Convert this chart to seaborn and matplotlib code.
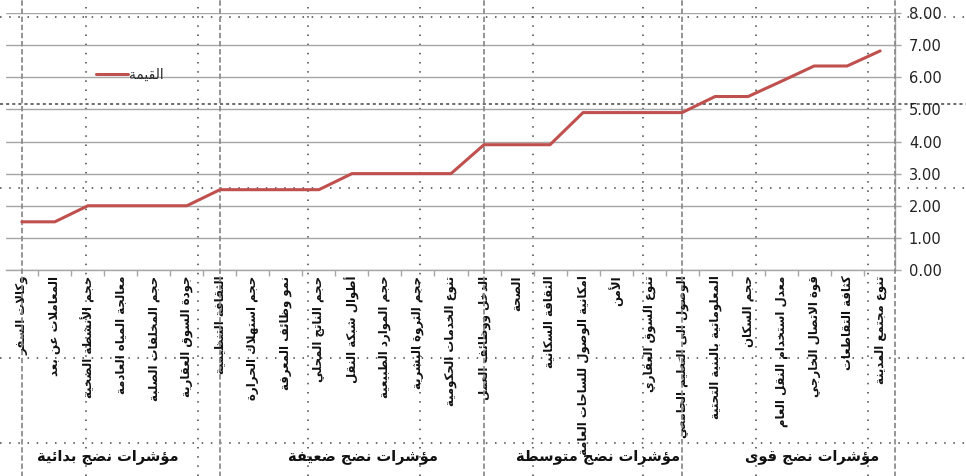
import matplotlib
matplotlib.use("Agg")
import matplotlib.pyplot as plt
from matplotlib.lines import Line2D
import seaborn as sns
import pandas as pd
import numpy as np

# ---------------- data ----------------
categories = [
    "وكالات السفر",
    "المعاملات عن بعد",
    "حجم الأنشطة الصحية",
    "معالجة المياه العادمة",
    "حجم المخلفات الصلبة",
    "جودة السوق العقارية",
    "الثقافة التنظيمية",
    "حجم استهلاك الحرارة",
    "نمو وظائف المعرفة",
    "حجم الناتج المحلي",
    "أطوال شبكة النقل",
    "حجم الموارد الطبيعية",
    "حجم الثروة البشرية",
    "تنوع الخدمات الحكومية",
    "الدخل ووظائف العمل",
    "الصحة",
    "الثقافة السكانية",
    "امكانية الوصول للساحات العامة",
    "الأمن",
    "تنوع السوق العقاري",
    "الوصول الى التعليم الجامعي",
    "المعلوماتية بالبنية التحتية",
    "حجم السكان",
    "معدل استخدام النقل العام",
    "قوة الاتصال الخارجي",
    "كثافة التقاطعات",
    "تنوع مجتمع المدينة",
]
values = [1.50, 1.50, 2.00, 2.00, 2.00, 2.00, 2.50, 2.50, 2.50, 2.50,
          3.00, 3.00, 3.00, 3.00, 3.90, 3.90, 3.90, 4.90, 4.90, 4.90,
          4.90, 5.40, 5.40, 5.87, 6.35, 6.35, 6.82]
series_name = "القيمة"
group_names = ["مؤشرات نضج بدائية", "مؤشرات نضج ضعيفة",
               "مؤشرات نضج متوسطة", "مؤشرات نضج قوى"]
group_sizes = [6, 8, 6, 7]
y_ticks = [0, 1, 2, 3, 4, 5, 6, 7, 8]

# ---------------- Arabic shaping (matplotlib has no bidi/shaping) ----------------
_DUAL = {'ئ': 0xFE89, 'ب': 0xFE8F, 'ت': 0xFE95, 'ث': 0xFE99, 'ج': 0xFE9D,
         'ح': 0xFEA1, 'خ': 0xFEA5, 'س': 0xFEB1, 'ش': 0xFEB5, 'ص': 0xFEB9,
         'ض': 0xFEBD, 'ط': 0xFEC1, 'ظ': 0xFEC5, 'ع': 0xFEC9, 'غ': 0xFECD,
         'ف': 0xFED1, 'ق': 0xFED5, 'ك': 0xFED9, 'ل': 0xFEDD, 'م': 0xFEE1,
         'ن': 0xFEE5, 'ه': 0xFEE9, 'ي': 0xFEF1}
_RIGHT = {'آ': 0xFE81, 'أ': 0xFE83, 'ؤ': 0xFE85, 'إ': 0xFE87, 'ا': 0xFE8D,
          'ة': 0xFE93, 'د': 0xFEA9, 'ذ': 0xFEAB, 'ر': 0xFEAD, 'ز': 0xFEAF,
          'و': 0xFEED, 'ى': 0xFEEF}
_LAMALEF = {'آ': 0xFEF5, 'أ': 0xFEF7, 'إ': 0xFEF9, 'ا': 0xFEFB}


def shape_ar(text):
    toks = []
    i = 0
    while i < len(text):
        c = text[i]
        if c == 'ل' and i + 1 < len(text) and text[i + 1] in _LAMALEF:
            toks.append(('R', _LAMALEF[text[i + 1]], None))
            i += 2
            continue
        if c in _DUAL:
            toks.append(('D', _DUAL[c], None))
        elif c in _RIGHT:
            toks.append(('R', _RIGHT[c], None))
        elif c == 'ـ':
            toks.append(('T', None, c))
        else:
            toks.append(('N', None, c))
        i += 1
    out = []
    for k, (kind, base, ch) in enumerate(toks):
        prev = toks[k - 1][0] if k > 0 else 'N'
        nxt = toks[k + 1][0] if k + 1 < len(toks) else 'N'
        jp = kind in ('D', 'R', 'T') and prev in ('D', 'T')
        jn = kind in ('D', 'T') and nxt in ('D', 'R', 'T')
        if kind == 'D':
            off = 3 if (jp and jn) else 1 if jp else 2 if jn else 0
            out.append(chr(base + off))
        elif kind == 'R':
            out.append(chr(base + (1 if jp else 0)))
        else:
            out.append(ch)
    return ''.join(out)[::-1]


# ---------------- style ----------------
sns.set_theme(style="white")
plt.rcParams['font.family'] = ['DejaVu Sans']

LINE_COLOR = "#C0504D"
GRID_COLOR = "#A6A6A6"

df = pd.DataFrame({"idx": np.arange(len(values)), "value": values,
                   "series": shape_ar(series_name)})

fig = plt.figure(figsize=(9.66, 4.76), dpi=100, facecolor="white")
ax = fig.add_axes([6 / 966, 206 / 476, 889 / 966, 257 / 476])
ax.set_facecolor("none")

# worksheet-like dotted background lines
for px in [86, 198, 308, 420, 533, 643, 756, 868]:
    fig.add_artist(Line2D([px / 966, px / 966], [0, 1], transform=fig.transFigure,
                          ls=(0, (1, 5)), color="#444444", lw=1.1, zorder=-5))
for py, st in [(17, (0, (1, 5))), (104, (0, (2, 2))), (188, (0, (1, 5))),
               (358, (0, (1, 5))), (443, (0, (1, 5)))]:
    fig.add_artist(Line2D([0, 1], [1 - py / 476, 1 - py / 476], transform=fig.transFigure,
                          ls=st, color="#444444", lw=1.1, zorder=-5))

sns.lineplot(data=df, x="idx", y="value", hue="series", palette=[LINE_COLOR],
             lw=2.2, ax=ax, zorder=5)

ax.set_xlim(-0.48, 26.45)
ax.set_ylim(0, 8)
ax.set_xlabel("")
ax.set_ylabel("")

# y axis on right
ax.yaxis.tick_right()
ax.set_yticks(y_ticks)
ax.set_yticklabels([f"{v:.2f}" for v in y_ticks], fontsize=10.5, color="#222222")
ax.tick_params(axis="y", which="major", length=4, width=1, color=GRID_COLOR, right=True,
               left=False, pad=6)
ax.yaxis.grid(True, color=GRID_COLOR, lw=1)
ax.xaxis.grid(False)
ax.set_axisbelow(True)

# x axis categories
idx = np.arange(len(categories))
ax.set_xticks(idx)
ax.set_xticklabels([shape_ar(c) for c in categories], rotation=90, fontsize=8.5,
                   fontweight="bold", color="#111111", va="top", ha="center")
ax.tick_params(axis="x", which="major", length=0, pad=4, bottom=True)
ax.set_xticks(idx[:-1] + 0.5, minor=True)
ax.tick_params(axis="x", which="minor", length=4, width=1, color=GRID_COLOR, bottom=True)

for side in ["top", "left"]:
    ax.spines[side].set_visible(False)
for side in ["bottom", "right"]:
    ax.spines[side].set_visible(True)
    ax.spines[side].set_color(GRID_COLOR)
    ax.spines[side].set_linewidth(1)

# group separators and group labels
starts = np.cumsum([0] + group_sizes[:-1])
bounds = list(starts) + [ax.get_xlim()[1]]
trans = ax.get_xaxis_transform()
for b in bounds:
    ax.plot([b, b], [-0.81, 1.06], transform=trans, clip_on=False,
            ls=(0, (3, 1.5)), color="#8C8C8C", lw=1.3, zorder=3)
label_shift = [-0.4, 0.33, 0.45, 0.7]
for g, name in enumerate(group_names):
    cx = (bounds[g] + bounds[g + 1]) / 2 + label_shift[g]
    ax.text(cx, -0.725, shape_ar(name), transform=trans, ha="center", va="center",
            fontsize=10.5, fontweight="bold", color="#111111")

# legend
leg = ax.legend(loc="center left", bbox_to_anchor=(0.093, 0.76), frameon=False,
                handlelength=2.3, fontsize=10, handletextpad=0.1, borderpad=0)
for h in leg.get_lines():
    h.set_linewidth(2.2)

fig.savefig("out.png", dpi=100, facecolor="white")
